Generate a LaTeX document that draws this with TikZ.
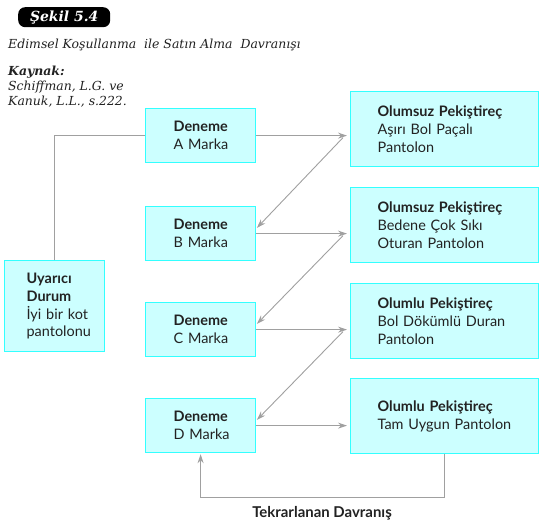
\documentclass[tikz,border=0pt]{standalone}
\usepackage{fontspec}
\setmainfont{DejaVu Serif}
\setsansfont{Lato}
\usetikzlibrary{arrows.meta,calc}
\definecolor{kutufill}{HTML}{CCFFFF}
\definecolor{kutuline}{HTML}{33FFFF}
\definecolor{okgray}{HTML}{A0A0A0}
\definecolor{yazi}{HTML}{222222}

\begin{document}
\begin{tikzpicture}[x=1bp,y=-1bp,
  kutu/.style={draw=kutuline, fill=kutufill, line width=1.2bp, anchor=north west,
    align=left, font=\sffamily\fontsize{14.5}{18}\selectfont, text=yazi},
  deneme/.style={kutu, inner xsep=28bp, text width=54bp, minimum height=54bp},
  pekis/.style={kutu, inner xsep=27bp, text width=134bp, minimum height=75bp},
  ok/.style={draw=okgray, line width=0.9bp, -{Stealth[length=9bp,width=6bp]}},
  baslik/.style={anchor=west, inner sep=0pt, text=yazi, font=\itshape\fontsize{12.5}{15}\selectfont}]
% Set the page size
\useasboundingbox (0,0) rectangle (542,524);

% Heading and source
\node[fill=black, rounded corners=7bp, minimum width=92bp, minimum height=20bp,
  anchor=north west, text=white, font=\bfseries\itshape\fontsize{14}{14}\selectfont] (sekil) at (18,7) {Şekil 5.4};
\node[baslik] (konu) at (8,45) {Edimsel Koşullanma\ \ ile Satın Alma\ \ Davranışı};
\node[baslik, font=\bfseries\itshape\fontsize{12.5}{15}\selectfont] (kaynak) at (8,72) {Kaynak:};
\node[baslik, anchor=north west, align=left] (yazar) at (8,81) {Schiffman, L.G. ve\\Kanuk, L.L., s.222.};

% Stimulus box
\node[kutu, inner xsep=22bp, text width=56bp, minimum height=91bp] (U) at (4,260) {\textbf{Uyarıcı}\\\textbf{Durum}\\İyi~bir~kot\\pantolonu};

% Trial boxes
\node[deneme] (A) at (145,108) {\textbf{Deneme}\\A~Marka};
\node[deneme] (B) at (145,206) {\textbf{Deneme}\\B~Marka};
\node[deneme] (C) at (145,302) {\textbf{Deneme}\\C~Marka};
\node[deneme] (D) at (145,398) {\textbf{Deneme}\\D~Marka};

% Reinforcement boxes
\node[pekis] (R1) at (350,91) {\textbf{Olumsuz~Pekiştireç}\\Aşırı~Bol~Paçalı\\Pantolon};
\node[pekis] (R2) at (350,187) {\textbf{Olumsuz~Pekiştireç}\\Bedene~Çok~Sıkı\\Oturan~Pantolon};
\node[pekis] (R3) at (350,283) {\textbf{Olumlu~Pekiştireç}\\Bol~Dökümlü~Duran\\Pantolon};
\node[pekis] (R4) at (350,378) {\textbf{Olumlu~Pekiştireç}\\Tam~Uygun~Pantolon};

% Connectors
\draw[draw=okgray, line width=0.9bp] (U.north) |- (A.west);
\foreach \l/\r in {A/R1,B/R2,C/R3,D/R4}
  \draw[ok, shorten >=3bp] (\l.east) -- (\l.east -| \r.west);
\foreach \a/\r/\b in {A/R1/B,B/R2/C,C/R3/D}
  \draw[ok, shorten >=1bp] ($(\a.east -| \r.west)+(-7,2)$) -- ([yshift=5bp]\b.east);
\draw[ok, shorten >=1bp] (R4.south) -- ++(0,43) -| (D.south);
\node[font=\sffamily\bfseries\fontsize{15}{16}\selectfont, text=yazi] (tekrar) at (322,513) {Tekrarlanan Davranış};
\end{tikzpicture}
\end{document}
